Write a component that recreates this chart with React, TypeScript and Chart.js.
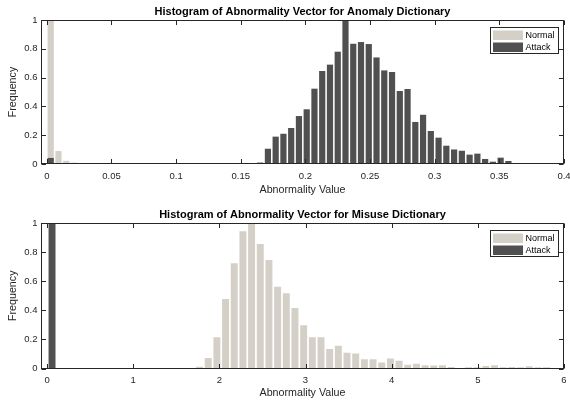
import React, { useEffect, useRef } from "react";
import { Chart, registerables } from "chart.js";

Chart.register(...registerables);

// ---------- DATA ----------
const seriesNames = ["Normal", "Attack"];

// Anomaly dictionary histogram (bin centres = start + width * i)
const anomalyBinStart = 0.003;
const anomalyBinWidth = 0.006;
const anomalyNormal = [
  1.0, 0.09, 0.022, 0.01, 0.005, 0.002, 0, 0, 0, 0,
  0, 0, 0, 0, 0, 0, 0, 0, 0, 0,
  0, 0, 0, 0, 0, 0.005, 0.005, 0, 0, 0,
  0, 0, 0, 0, 0, 0, 0, 0, 0, 0,
  0, 0, 0, 0, 0, 0, 0, 0, 0, 0,
  0, 0, 0, 0, 0, 0, 0, 0, 0, 0,
  0, 0, 0, 0, 0, 0, 0,
];
const anomalyAttack = [
  0.042, 0, 0, 0, 0, 0, 0, 0, 0, 0,
  0, 0, 0, 0, 0, 0, 0, 0, 0, 0,
  0, 0, 0, 0, 0, 0, 0, 0.01, 0.106, 0.19,
  0.21, 0.25, 0.333, 0.38, 0.523, 0.646, 0.69, 0.78, 1.0, 0.835,
  0.847, 0.833, 0.74, 0.65, 0.639, 0.507, 0.521, 0.292, 0.342, 0.229,
  0.183, 0.127, 0.101, 0.092, 0.065, 0.072, 0.035, 0.016, 0.044, 0.021,
  0.003, 0, 0, 0, 0, 0, 0,
];
const anomalyXTicks = [0, 0.05, 0.1, 0.15, 0.2, 0.25, 0.3, 0.35, 0.4];

// Misuse dictionary histogram
const misuseBinStart = 0.058;
const misuseBinWidth = 0.1007;
const misuseNormal = [
  0, 0, 0, 0, 0, 0, 0, 0, 0, 0,
  0, 0, 0, 0, 0, 0, 0.004, 0.012, 0.073, 0.215,
  0.477, 0.723, 0.943, 1.0, 0.855, 0.745, 0.562, 0.518, 0.415, 0.298,
  0.215, 0.215, 0.134, 0.156, 0.108, 0.103, 0.064, 0.064, 0.041, 0.069,
  0.053, 0.025, 0.032, 0.023, 0.021, 0.023, 0.011, 0.004, 0.009, 0.009,
  0.018, 0.023, 0.009, 0.011, 0.009, 0.016, 0.009, 0.009, 0.004, 0,
];
const misuseAttack = [
  1.0, 0, 0, 0, 0, 0, 0, 0, 0, 0,
  0, 0, 0, 0, 0, 0, 0, 0, 0, 0,
  0, 0, 0, 0, 0, 0, 0, 0, 0, 0,
  0, 0, 0, 0, 0, 0, 0, 0, 0, 0,
  0, 0, 0, 0, 0, 0, 0, 0, 0, 0,
  0, 0, 0, 0, 0, 0, 0, 0, 0, 0,
];
const misuseXTicks = [0, 1, 2, 3, 4, 5, 6];

const yTicks = [0, 0.2, 0.4, 0.6, 0.8, 1];

const NORMAL_COLOR = "#d4d0c8";
const ATTACK_COLOR = "#505050";
const AXIS_COLOR = "#262626";
const FONT = "'Liberation Sans', Arial, Helvetica, sans-serif";

type Panel = {
  title: string;
  binStart: number;
  binWidth: number;
  normal: number[];
  attack: number[];
  xTicks: number[];
  xMin: number;
  xMax: number;
  height: number;
  padTop: number;
  xAxisHeight: number;
  xTitlePad: number;
};

const framePlugin = {
  id: "matlabFrame",
  afterDatasetsDraw(chart: any, _args: any, opts: any) {
    const { ctx, chartArea: a, scales } = chart;
    const L = Math.round(a.left) + 0.5;
    const R = Math.round(a.right) - 0.5;
    const T = Math.round(a.top) + 0.5;
    const B = Math.round(a.bottom) - 0.5;
    ctx.save();
    ctx.strokeStyle = AXIS_COLOR;
    ctx.lineWidth = 1;
    const tl = 4.5;
    ctx.beginPath();
    scales.x.ticks.forEach((t: any) => {
      const px = Math.round(scales.x.getPixelForValue(t.value)) + 0.5;
      ctx.moveTo(px, B);
      ctx.lineTo(px, B - tl);
      ctx.moveTo(px, T);
      ctx.lineTo(px, T + tl);
    });
    scales.y.ticks.forEach((t: any) => {
      const py = Math.round(scales.y.getPixelForValue(t.value)) + 0.5;
      ctx.moveTo(L, py);
      ctx.lineTo(L + tl, py);
      ctx.moveTo(R, py);
      ctx.lineTo(R - tl, py);
    });
    ctx.stroke();
    ctx.strokeRect(L, T, R - L, B - T);

    // legend box (inside, top-right)
    const bx = Math.round(a.right - 74) + 0.5;
    const by = Math.round(a.top + 7) + 0.5;
    const bw = 68;
    const bh = 26;
    ctx.fillStyle = "#ffffff";
    ctx.fillRect(bx, by, bw, bh);
    ctx.strokeStyle = AXIS_COLOR;
    ctx.strokeRect(bx, by, bw, bh);
    const colors = [NORMAL_COLOR, ATTACK_COLOR];
    ctx.font = `9px ${FONT}`;
    ctx.textBaseline = "middle";
    ctx.textAlign = "left";
    seriesNames.forEach((name, i) => {
      const sy = by + 3 + i * 12;
      ctx.fillStyle = colors[i];
      ctx.fillRect(bx + 2.5, sy, 30, 9.5);
      ctx.fillStyle = "#000000";
      ctx.fillText(name, bx + 35, sy + 5);
    });

    // title
    ctx.font = `bold 11px ${FONT}`;
    ctx.textAlign = "center";
    ctx.fillStyle = "#000000";
    ctx.fillText(opts.text, (a.left + a.right) / 2, a.top - 8.5);
    ctx.restore();
  },
};

function HistChart({ panel }: { panel: Panel }) {
  const ref = useRef<HTMLCanvasElement | null>(null);
  useEffect(() => {
    if (!ref.current) return;
    const bins = panel.normal.map((_, i) => +(panel.binStart + panel.binWidth * i).toFixed(5));
    const chart = new Chart(ref.current, {
      type: "bar",
      data: {
        datasets: [
          {
            label: seriesNames[0],
            data: bins.map((x, i) => ({ x, y: panel.normal[i] })),
            backgroundColor: NORMAL_COLOR,
            borderWidth: 0,
            order: 2,
            grouped: false,
            barPercentage: 0.8,
            categoryPercentage: 1,
          } as any,
          {
            label: seriesNames[1],
            data: bins.map((x, i) => ({ x, y: panel.attack[i] })),
            backgroundColor: ATTACK_COLOR,
            borderWidth: 0,
            order: 1,
            grouped: false,
            barPercentage: 0.8,
            categoryPercentage: 1,
          } as any,
        ],
      },
      options: {
        responsive: false,
        animation: false,
        events: [],
        layout: { padding: { top: panel.padTop, right: 6, left: 0, bottom: 0 } },
        plugins: {
          legend: { display: false },
          title: { display: false },
          tooltip: { enabled: false },
          matlabFrame: { text: panel.title },
        } as any,
        scales: {
          x: {
            type: "linear",
            offset: false,
            min: panel.xMin,
            max: panel.xMax,
            grid: { display: false, drawTicks: false, offset: false },
            border: { display: false },
            afterBuildTicks: (s: any) => {
              s.ticks = panel.xTicks.map((v) => ({ value: v }));
            },
            afterFit: (s: any) => {
              s.height = panel.xAxisHeight;
              s.paddingLeft = 0;
              s.paddingRight = 0;
            },
            ticks: {
              callback: (v: any) => String(v),
              font: { family: FONT, size: 9.5 },
              color: AXIS_COLOR,
              padding: 6.5,
              maxRotation: 0,
              autoSkip: false,
            },
            title: {
              display: true,
              text: "Abnormality Value",
              font: { family: FONT, size: 10.7 },
              color: AXIS_COLOR,
              padding: { top: 0, bottom: panel.xTitlePad },
            },
          },
          y: {
            type: "linear",
            min: 0,
            max: 1,
            grid: { display: false, drawTicks: false },
            border: { display: false },
            afterBuildTicks: (s: any) => {
              s.ticks = yTicks.map((v) => ({ value: v }));
            },
            afterFit: (s: any) => {
              s.width = 41;
              s.paddingTop = 0;
              s.paddingBottom = 0;
            },
            ticks: {
              callback: (v: any) => String(v),
              font: { family: FONT, size: 9.5 },
              color: AXIS_COLOR,
              padding: 3.5,
            },
            title: {
              display: true,
              text: "Frequency",
              font: { family: FONT, size: 10.7 },
              color: AXIS_COLOR,
              padding: { top: 7, bottom: 0 },
            },
          },
        },
      } as any,
      plugins: [framePlugin],
    });
    return () => chart.destroy();
  }, [panel]);
  return (
    <canvas
      ref={ref}
      width={570}
      height={panel.height}
      style={{ display: "block", width: 570, height: panel.height }}
    />
  );
}

const panels: Panel[] = [
  {
    title: "Histogram of Abnormality Vector for Anomaly Dictionary",
    binStart: anomalyBinStart,
    binWidth: anomalyBinWidth,
    normal: anomalyNormal,
    attack: anomalyAttack,
    xTicks: anomalyXTicks,
    xMin: -0.0045,
    xMax: 0.4,
    height: 200,
    padTop: 20,
    xAxisHeight: 36,
    xTitlePad: 3.5,
  },
  {
    title: "Histogram of Abnormality Vector for Misuse Dictionary",
    binStart: misuseBinStart,
    binWidth: misuseBinWidth,
    normal: misuseNormal,
    attack: misuseAttack,
    xTicks: misuseXTicks,
    xMin: -0.07,
    xMax: 6,
    height: 201,
    padTop: 23,
    xAxisHeight: 32.5,
    xTitlePad: 1.5,
  },
];

export default function App() {
  return (
    <div
      style={{
        position: "absolute",
        left: 0,
        top: 0,
        width: 570,
        height: 401,
        background: "#ffffff",
      }}
    >
      {panels.map((p, i) => (
        <HistChart key={i} panel={p} />
      ))}
    </div>
  );
}
